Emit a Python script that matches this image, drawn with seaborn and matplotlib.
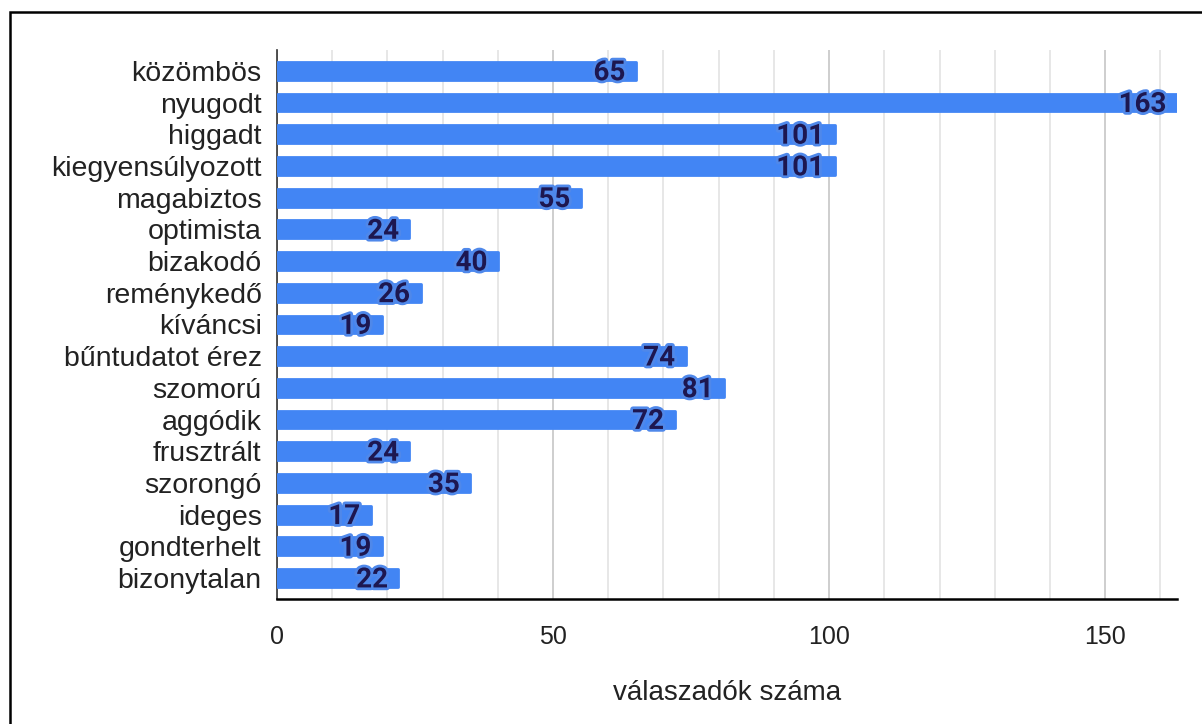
import numpy as np
import pandas as pd
import matplotlib
matplotlib.use('Agg')
import matplotlib.pyplot as plt
import matplotlib.patheffects as pe
from matplotlib.patches import Rectangle
from matplotlib.ticker import MultipleLocator
import seaborn as sns

# ---------------------------------------------------------------------------
# Data
# ---------------------------------------------------------------------------
categories = ['közömbös', 'nyugodt', 'higgadt', 'kiegyensúlyozott', 'magabiztos',
              'optimista', 'bizakodó', 'reménykedő', 'kíváncsi', 'bűntudatot érez',
              'szomorú', 'aggódik', 'frusztrált', 'szorongó', 'ideges',
              'gondterhelt', 'bizonytalan']
counts = [65, 163, 101, 101, 55, 24, 40, 26, 19, 74, 81, 72, 24, 35, 17, 19, 22]
x_label = 'válaszadók száma'

BAR_COLOR = '#4285F4'
LABEL_COLOR = '#1d1750'

df = pd.DataFrame({'cat': categories, 'n': counts})

sns.set_style('white')
plt.rcParams['font.family'] = ['Liberation Sans', 'DejaVu Sans']

fig = plt.figure(figsize=(12.02, 7.24), dpi=100)
ax = fig.add_axes([0.2304, 0.1727, 0.9792 - 0.2304, 0.931 - 0.1727])

sns.barplot(data=df, y='cat', x='n', orient='h', color=BAR_COLOR, saturation=1,
            width=0.56, ax=ax, zorder=3)
for p in ax.patches:
    p.set_edgecolor(BAR_COLOR)
    p.set_linewidth(2.0)
    p.set_joinstyle('round')

ax.set_xlim(0, 163)
ax.set_ylim(16.66, -0.66)

# grid
ax.xaxis.set_major_locator(MultipleLocator(50))
ax.xaxis.set_minor_locator(MultipleLocator(10))
ax.grid(axis='x', which='minor', color='#e3e3e3', linewidth=1.2, zorder=0)
ax.grid(axis='x', which='major', color='#c6c6c6', linewidth=1.2, zorder=0)
ax.set_axisbelow(True)

for s in ['top', 'right']:
    ax.spines[s].set_visible(False)
ax.spines['left'].set_color('#333333')
ax.spines['left'].set_linewidth(1.2)
ax.spines['bottom'].set_color('black')
ax.spines['bottom'].set_linewidth(1.8)

ax.tick_params(axis='x', which='major', direction='inout', length=10, width=1.3,
               labelsize=18, pad=14, colors='black', labelcolor='#222222')
ax.tick_params(axis='x', which='minor', direction='out', length=9, width=1.3, colors='black')
ax.tick_params(axis='y', length=0, labelsize=20.5, pad=11, labelcolor='#222222')

ax.set_ylabel('')
ax.set_xlabel(x_label, fontsize=20, color='#222222', labelpad=22)

# value labels
for i, v in enumerate(counts):
    ax.text(v - 1.9, i + 0.06, str(v), ha='right', va='center', fontsize=20,
            fontweight='bold', family=['Roboto', 'DejaVu Sans'], color=LABEL_COLOR,
            zorder=5,
            path_effects=[pe.withStroke(linewidth=4, foreground='#4f88ea')])

# outer frame
fig.patches.append(Rectangle((10 / 1202, -0.1), 1.2, 1 - 12 / 724 + 0.1,
                             transform=fig.transFigure, fill=False,
                             edgecolor='black', linewidth=1.8, zorder=10))

fig.savefig('out.png', dpi=100, facecolor='white')
